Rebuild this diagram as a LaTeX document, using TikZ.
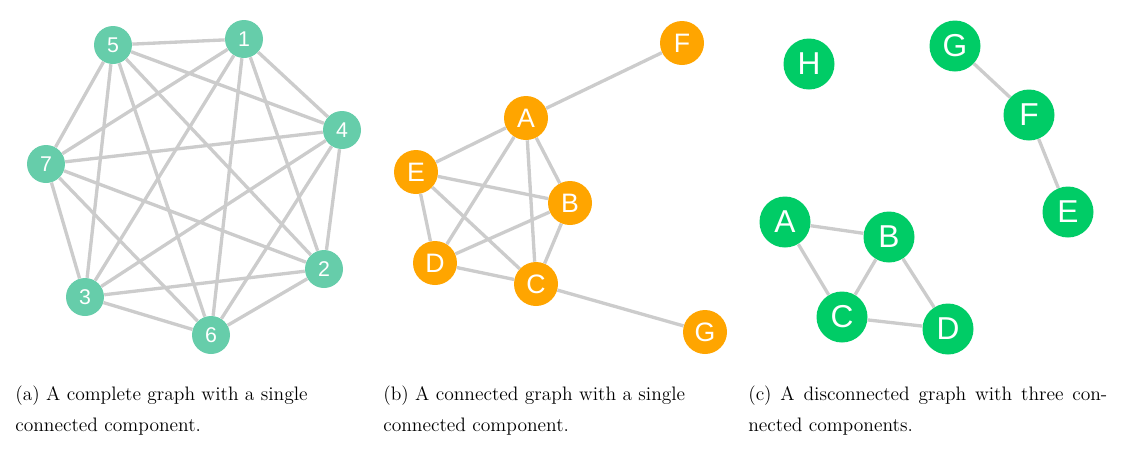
\documentclass[tikz,border=0pt]{standalone}
\usepackage{fontspec}
\newfontfamily\labelfont{Liberation Sans}
\definecolor{tealnode}{HTML}{66CDAA}
\definecolor{orng}{HTML}{FFA500}
\definecolor{grn}{HTML}{00CC66}
\definecolor{edgegray}{HTML}{CCCCCC}
\begin{document}
\begin{tikzpicture}[x=0.6pt,y=-0.6pt,
  vtx/.style={circle,inner sep=0pt,text=white,font=\labelfont},
  va/.style={vtx,fill=tealnode,minimum size=22.8pt,font=\labelfont\fontsize{12.8}{12.8}\selectfont},
  vb/.style={vtx,fill=orng,minimum size=26.4pt,font=\labelfont\fontsize{16}{16}\selectfont},
  vc/.style={vtx,fill=grn,minimum size=30.6pt,font=\labelfont\fontsize{19}{19}\selectfont},
  link/.style={draw=edgegray,line width=2pt},
  captext/.style={anchor=base west,inner sep=0pt,font=\fontsize{11.7}{19}\selectfont}]
\useasboundingbox (0,0) rectangle (1125,449);
% (a)
\node[va] (a5) at (113,45) {5};
\node[va] (a1) at (244,39) {1};
\node[va] (a4) at (342,130) {4};
\node[va] (a7) at (46,164) {7};
\node[va] (a2) at (324,269) {2};
\node[va] (a3) at (85,297) {3};
\node[va] (a6) at (211,335) {6};
\foreach \u/\v in {1/2,1/3,1/4,1/5,1/6,1/7,2/3,2/4,2/5,2/6,2/7,3/4,3/5,3/6,3/7,4/5,4/6,4/7,5/6,5/7,6/7}
  \draw[link] (a\u) -- (a\v);
% (b)
\node[vb] (bF) at (682,43) {F};
\node[vb] (bA) at (526,118) {A};
\node[vb] (bE) at (416,172) {E};
\node[vb] (bB) at (570,203) {B};
\node[vb] (bD) at (435,263) {D};
\node[vb] (bC) at (536,284) {C};
\node[vb] (bG) at (705,332) {G};
\foreach \u/\v in {A/F,A/E,A/D,A/C,A/B,E/B,E/D,E/C,D/B,D/C,B/C,C/G}
  \draw[link] (b\u) -- (b\v);
% (c)
\node[vc] (cH) at (809,64) {H};
\node[vc] (cG) at (955,46) {G};
\node[vc] (cF) at (1029,115) {F};
\node[vc] (cE) at (1068,212) {E};
\node[vc] (cA) at (785,222) {A};
\node[vc] (cB) at (889,237) {B};
\node[vc] (cC) at (842,317) {C};
\node[vc] (cD) at (948,329) {D};
\foreach \u/\v in {G/F,F/E,A/B,A/C,B/C,B/D,C/D}
  \draw[link] (c\u) -- (c\v);
% captions
\node[captext] (capa1) at (15,400) {(a) A complete graph with a single};
\node[captext] (capa2) at (15,431) {connected component.};
\node[captext] (capb1) at (383,400) {(b) A connected graph with a single};
\node[captext] (capb2) at (383,431) {connected component.};
\node[captext] (capc1) at (748,400) {\makebox[215.4pt][s]{(c) A disconnected graph with three con-}};
\node[captext] (capc2) at (748,431) {nected components.};
\end{tikzpicture}
\end{document}
